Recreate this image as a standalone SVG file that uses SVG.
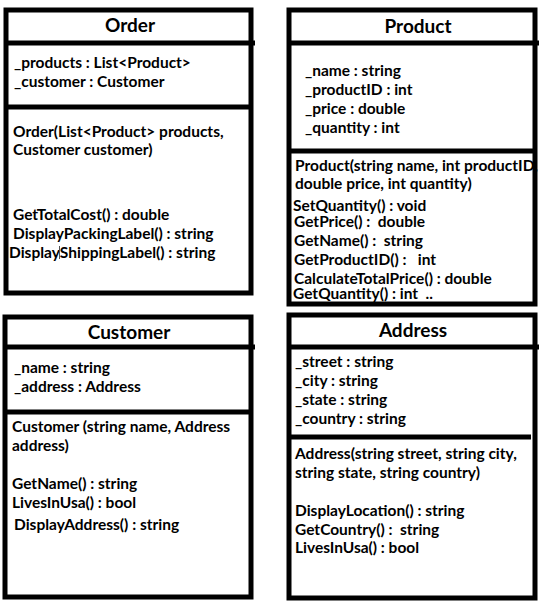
<svg xmlns="http://www.w3.org/2000/svg" width="558" height="610" viewBox="0 0 558 610">
<style>
.box{fill:#fff;stroke:#000;stroke-width:5}
.div{stroke:#000;stroke-width:5}
.t{font-family:Lato,"Liberation Sans",sans-serif;font-weight:bold;font-size:19px;fill:#000;text-anchor:middle}
.m{font-family:Lato,"Liberation Sans",sans-serif;font-weight:bold;font-size:15.5px;fill:#000;white-space:pre}
.cur{stroke:#555;stroke-width:1}
</style>
<rect width="558" height="610" fill="#fff"/>
<g id="order">
<rect class="box" x="6" y="10" width="245" height="283"/>
<line class="div" x1="6" y1="43" x2="255" y2="43"/>
<line class="div" x1="6" y1="107" x2="251" y2="107"/>
<text class="t" x="130" y="32">Order</text>
<text class="m" x="14" y="68">_products : List&lt;Product&gt;</text>
<text class="m" x="14" y="87">_customer : Customer</text>
<text class="m" x="13" y="137">Order(List&lt;Product&gt; products,</text>
<text class="m" x="13" y="155">Customer customer)</text>
<text class="m" x="13" y="220">GetTotalCost() : double</text>
<text class="m" x="13" y="239">DisplayPackingLabel() : string</text>
<text class="m" x="9" y="258">DisplayShippingLabel() : string</text>
<line class="cur" x1="59.5" y1="246" x2="59.5" y2="259"/>
</g>
<g id="product">
<rect class="box" x="289" y="10" width="246" height="294"/>
<line class="div" x1="289" y1="43" x2="539" y2="43"/>
<line class="div" x1="289" y1="151" x2="535" y2="151"/>
<text class="t" x="418" y="33">Product</text>
<text class="m" x="305" y="76">_name : string</text>
<text class="m" x="305" y="95">_productID : int</text>
<text class="m" x="305" y="114">_price : double</text>
<text class="m" x="305" y="133">_quantity : int</text>
<text class="m" x="295" y="171">Product(string name, int productID,</text>
<text class="m" x="295" y="189">double price, int quantity)</text>
<text class="m" x="293" y="211">SetQuantity() : void</text>
<text class="m" x="294" y="227">GetPrice() :  double</text>
<text class="m" x="294" y="246">GetName() :  string</text>
<text class="m" x="294" y="265">GetProductID() :   int</text>
<text class="m" x="294" y="284">CalculateTotalPrice() : double</text>
<text class="m" x="293" y="299">GetQuantity() : int  ..</text>
</g>
<g id="customer">
<rect class="box" x="5" y="317" width="246" height="280"/>
<line class="div" x1="5" y1="347" x2="255" y2="347"/>
<line class="div" x1="5" y1="412" x2="251" y2="412"/>
<text class="t" x="129" y="339">Customer</text>
<text class="m" x="14" y="373">_name : string</text>
<text class="m" x="14" y="392">_address : Address</text>
<text class="m" x="12" y="432">Customer (string name, Address</text>
<text class="m" x="12" y="451">address)</text>
<text class="m" x="12" y="489">GetName() : string</text>
<text class="m" x="12" y="508">LivesInUsa() : bool</text>
<text class="m" x="14" y="530">DisplayAddress() : string</text>
</g>
<g id="address">
<rect class="box" x="289" y="315" width="246" height="283"/>
<line class="div" x1="289" y1="347" x2="539" y2="347"/>
<line class="div" x1="289" y1="437" x2="531" y2="437"/>
<text class="t" x="413" y="337">Address</text>
<text class="m" x="295" y="367">_street : string</text>
<text class="m" x="295" y="386">_city : string</text>
<text class="m" x="295" y="405">_state : string</text>
<text class="m" x="295" y="424">_country : string</text>
<text class="m" x="295" y="459">Address(string street, string city,</text>
<text class="m" x="295" y="478">string state, string country)</text>
<text class="m" x="295" y="516">DisplayLocation() : string</text>
<text class="m" x="295" y="535">GetCountry() :  string</text>
<text class="m" x="295" y="553">LivesInUsa() : bool</text>
</g>
<g id="connectors"></g>
</svg>
